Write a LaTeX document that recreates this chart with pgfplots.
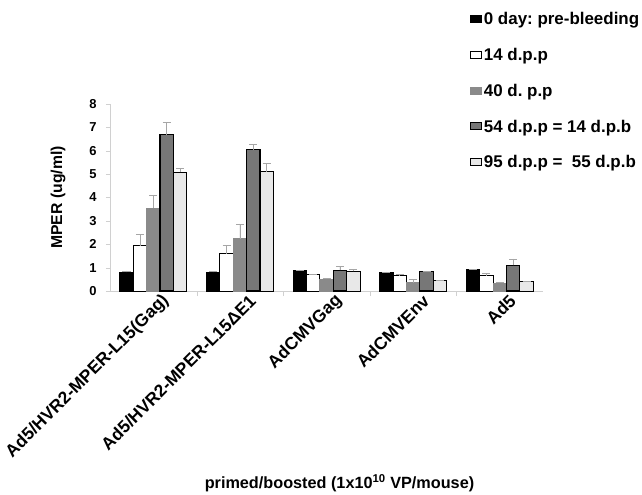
\documentclass[border=0pt]{standalone}
\usepackage{pgfplots}
\pgfplotsset{compat=1.18}
\usepackage{pgfplotstable}
\usepackage{fontspec}
\setmainfont{Liberation Sans}
\frenchspacing
\definecolor{gA}{HTML}{8A8A8A}
\definecolor{gB}{HTML}{777777}
\definecolor{gC}{HTML}{E8E8E8}
\definecolor{axc}{HTML}{D0D0D0}
\pgfplotstableread{
x b0 e0 b1 e1 b2 e2 b3 e3 b4 e4
0 0.80 0.06 1.94 0.50 3.54 0.57 6.69 0.52 5.09 0.17
1 0.80 0.05 1.60 0.37 2.24 0.63 6.04 0.22 5.10 0.37
2 0.87 0.03 0.70 0.03 0.50 0.05 0.88 0.18 0.84 0.10
3 0.80 0.02 0.66 0.05 0.36 0.14 0.83 0.03 0.44 0.03
4 0.91 0.02 0.66 0.08 0.34 0.05 1.10 0.27 0.39 0.03
}\data
\begin{document}
\begin{tikzpicture}
\useasboundingbox (0,0) rectangle (642bp,-495bp);
\begin{axis}[
  at={(110bp,-291bp)}, anchor=south west,
  scale only axis, width=433bp, height=187bp,
  ybar=0pt, bar width=13.4bp,
  xmin=-0.5, xmax=4.5, ymin=0, ymax=8,
  ytick={0,...,8},
  xtick={0,1,2,3,4},
  xticklabels={Ad5/HVR2-MPER-L15(Gag),Ad5/HVR2-MPER-L15ΔE1,AdCMVGag,AdCMVEnv,Ad5},
  minor xtick={0.5,1.5,2.5,3.5},
  major x tick style={draw=none},
  minor x tick style={draw=axc},
  ytick style={draw=axc},
  tick align=outside,
  major tick length=4bp, minor tick length=5bp,
  axis x line*=bottom, axis y line*=left,
  axis line style={draw=axc, -},
  /pgf/number format/assume math mode=true,
  yticklabel style={font=\fontsize{13}{15}\selectfont\bfseries, xshift=-6bp},
  xticklabel style={font=\fontsize{17.5}{21}\selectfont\bfseries, xshift=13bp, yshift=-3bp, rotate=45, anchor=east, inner sep=0pt},
  ylabel={MPER (ug/ml)},
  ylabel style={font=\fontsize{15.8}{18}\selectfont\bfseries, at={(axis description cs:-0.12,0.5)}, anchor=center, rotate=0},
  xlabel={primed/boosted (1x10\textsuperscript{10} VP/mouse)},
  xlabel style={font=\fontsize{16.3}{19}\selectfont\bfseries, at={(axis description cs:0.53,-1.027)}, anchor=center},
  legend style={at={(axis description cs:0.83,1.50)}, anchor=north west, draw=none, fill=none,
    font=\fontsize{17}{20}\selectfont\bfseries, row sep=18bp, inner sep=0pt,
    nodes={inner xsep=2bp}},
  legend cell align=left,
  legend image code/.code={\draw[#1] (0bp,-3bp) rectangle (11bp,4bp);},
  error bars/y dir=plus, error bars/y explicit,
  error bars/error bar style={draw=gray!70, line width=0.6pt},
  error bars/error mark options={rotate=90, draw=gray!70, mark size=4bp, line width=0.6pt},
]
\addplot[fill=black, draw=black, line width=1pt] table[x=x, y=b0, y error=e0] {\data};
\addplot[fill=white, draw=black, line width=1pt] table[x=x, y=b1, y error=e1] {\data};
\addplot[fill=gA, draw=gA, line width=1pt] table[x=x, y=b2, y error=e2] {\data};
\addplot[fill=gB, draw=black, line width=1.3pt] table[x=x, y=b3, y error=e3] {\data};
\addplot[fill=gC, draw=black, line width=1pt] table[x=x, y=b4, y error=e4] {\data};
\legend{0 day: pre-bleeding,14 d.p.p,40 d. p.p,54 d.p.p = 14 d.p.b,95 d.p.p =\ \ 55 d.p.b}
\end{axis}
\end{tikzpicture}
\end{document}
